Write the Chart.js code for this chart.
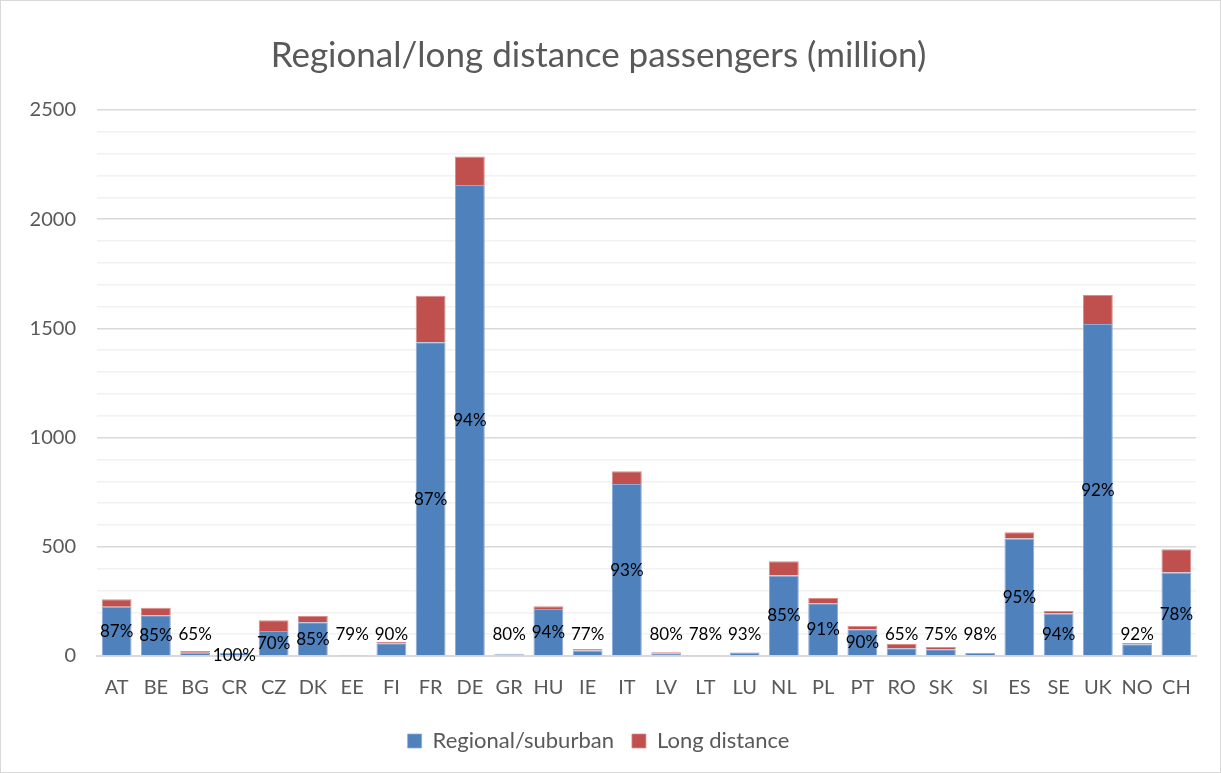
<!DOCTYPE html>
<html><head><meta charset="utf-8">
<script src="https://cdn.jsdelivr.net/npm/chart.js@4/dist/chart.umd.min.js"></script>
<style>html,body{margin:0;padding:0;background:#fff}#wrap{width:1221px;height:773px;position:relative;box-sizing:border-box;border:1px solid #d9d9d9}</style>
</head><body><div id="wrap"><canvas id="c" width="1219" height="771"></canvas></div>
<script>
const categories = ["AT","BE","BG","CR","CZ","DK","EE","FI","FR","DE","GR","HU","IE","IT","LV","LT","LU","NL","PL","PT","RO","SK","SI","ES","SE","UK","NO","CH"];
const regional = [225,187,15,15,114,155,4,58,1437,2157,8,215,25,787,13,2,16,369,241,123,36,31,14,538,195,1520,54,382];
const longDistance = [35,34,8,0,50,28,1,7,213,130,2,13,7,59,4,0.6,1.2,65,24,14,19,10,0.3,29,11,133,5,107];
const shareLabels = ["87%","85%","65%","100%","70%","85%","79%","90%","87%","94%","80%","94%","77%","93%","80%","78%","93%","85%","91%","90%","65%","75%","98%","95%","94%","92%","92%","78%"];
const yTicks = [0,500,1000,1500,2000,2500];

const FONT = "Lato, 'Open Sans', sans-serif";

const shareLabelPlugin = {
  id: 'shareLabels',
  afterDatasetsDraw(chart) {
    const ctx = chart.ctx;
    const meta = chart.getDatasetMeta(0);
    const y = chart.scales.y;
    ctx.save();
    ctx.font = "17px " + FONT;
    ctx.fillStyle = "#000";
    ctx.textAlign = "center";
    ctx.textBaseline = "middle";
    meta.data.forEach((bar, i) => {
      let v = regional[i] / 2;
      if (regional[i] < 90) v = Math.max(v, 100);
      if (regional[i] < 90 && longDistance[i] === 0) v = 0;
      ctx.fillText(shareLabels[i], bar.x, y.getPixelForValue(v));
    });
    ctx.restore();
  }
};

new Chart(document.getElementById('c'), {
  type: 'bar',
  data: {
    labels: categories,
    datasets: [
      {label: 'Regional/suburban', data: regional, backgroundColor: '#4F81BD', borderColor: '#8eaad6', borderWidth: {top:1,left:1,right:1,bottom:0}, borderSkipped: false, categoryPercentage: 1, barPercentage: 0.76},
      {label: 'Long distance', data: longDistance, backgroundColor: '#C0504D', borderColor: '#d98e8c', borderWidth: {top:1,left:1,right:1,bottom:0}, borderSkipped: false, categoryPercentage: 1, barPercentage: 0.76}
    ]
  },
  options: {
    responsive: false,
    animation: false,
    layout: {padding: {left: 0, right: 24, top: 10, bottom: 10}},
    plugins: {
      title: {display: true, text: 'Regional/long distance passengers (million)', color: '#595959', font: {family: FONT, size: 35, weight: 'normal'}, padding: {top: 24, bottom: 33}},
      legend: {position: 'bottom', labels: {color: '#595959', font: {family: FONT, size: 22}, boxWidth: 14, boxHeight: 14, padding: 18}},
      tooltip: {enabled: false}
    },
    scales: {
      x: {
        stacked: true,
        grid: {display: false},
        border: {color: '#d9d9d9', width: 2},
        ticks: {color: '#595959', font: {family: FONT, size: 20}, padding: 12}
      },
      y: {
        stacked: true,
        min: 0, max: 2500,
        afterFit(s) { s.width = 96; },
        border: {display: false},
        grid: {color: ctx => (ctx.tick && ctx.tick.value % 500 === 0) ? '#d9d9d9' : '#f2f2f2', lineWidth: 1.5, drawTicks: false},
        ticks: {stepSize: 100, autoSkip: false, color: '#595959', font: {family: FONT, size: 20}, padding: 21,
          callback: v => yTicks.includes(v) ? String(v) : ''}
      }
    }
  },
  plugins: [shareLabelPlugin]
});
</script></body></html>
